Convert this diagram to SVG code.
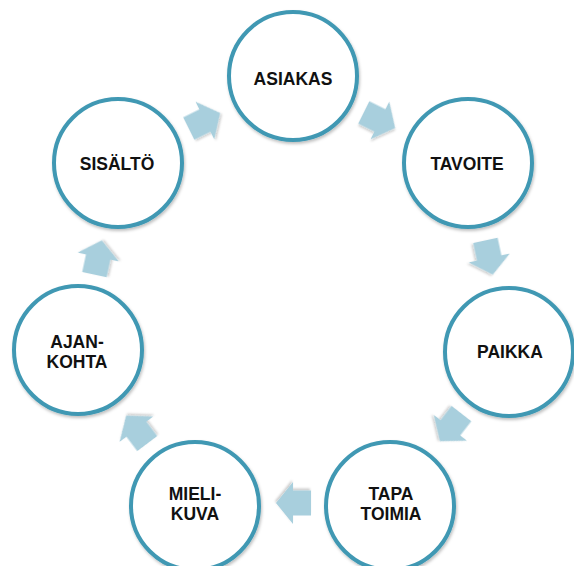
<svg xmlns="http://www.w3.org/2000/svg" width="574" height="566" viewBox="0 0 574 566">
<defs>
<style>
.node circle{fill:#ffffff;stroke:#3f98b3;stroke-width:4;filter:url(#sh);}
.node text{font-family:"Liberation Sans",Arial,sans-serif;font-weight:bold;font-size:17.5px;fill:#111;text-anchor:middle;}
.arr{fill:#a8cfdd;filter:url(#sh2);}
</style>
<filter id="sh" x="-20%" y="-20%" width="140%" height="140%">
<feDropShadow dx="1" dy="2" stdDeviation="1.5" flood-color="#000" flood-opacity="0.25"/>
</filter>
<filter id="sh2" x="-30%" y="-30%" width="160%" height="160%">
<feDropShadow dx="1" dy="2" stdDeviation="1.2" flood-color="#000" flood-opacity="0.2"/>
</filter>
<path id="ba" d="M-17,-12.5 L1,-12.5 L1,-21 L18,0 L1,21 L1,12.5 L-17,12.5 Z"/>
</defs>
<rect width="574" height="566" fill="#ffffff"/>
<g id="connectors">
<use href="#ba" class="arr" transform="translate(379,120) rotate(26.4)"/>
<use href="#ba" class="arr" transform="translate(489,257) rotate(77.8)"/>
<use href="#ba" class="arr" transform="translate(451,427) rotate(127.9)"/>
<use href="#ba" class="arr" transform="translate(294,503) rotate(180)"/>
<use href="#ba" class="arr" transform="translate(137,430) rotate(233)"/>
<use href="#ba" class="arr" transform="translate(98,258) rotate(282.1)"/>
<use href="#ba" class="arr" transform="translate(204,121) rotate(333.6)"/>
</g>
<g id="asiakas" class="node"><circle cx="293" cy="76" r="64"/><text x="293" y="85">ASIAKAS</text></g>
<g id="tavoite" class="node"><circle cx="468" cy="163" r="64"/><text x="467" y="170">TAVOITE</text></g>
<g id="paikka" class="node"><circle cx="509" cy="352" r="64"/><text x="510" y="358">PAIKKA</text></g>
<g id="tapa-toimia" class="node"><circle cx="390" cy="506" r="64"/><text x="391" y="500">TAPA</text><text x="391" y="520">TOIMIA</text></g>
<g id="mielikuva" class="node"><circle cx="195" cy="506" r="64"/><text x="195" y="500">MIELI-</text><text x="195" y="520">KUVA</text></g>
<g id="ajankohta" class="node"><circle cx="78" cy="350" r="64"/><text x="77" y="348">AJAN-</text><text x="77" y="368">KOHTA</text></g>
<g id="sisalto" class="node"><circle cx="118" cy="163" r="64"/><text x="117" y="170">SISÄLTÖ</text></g>
</svg>
